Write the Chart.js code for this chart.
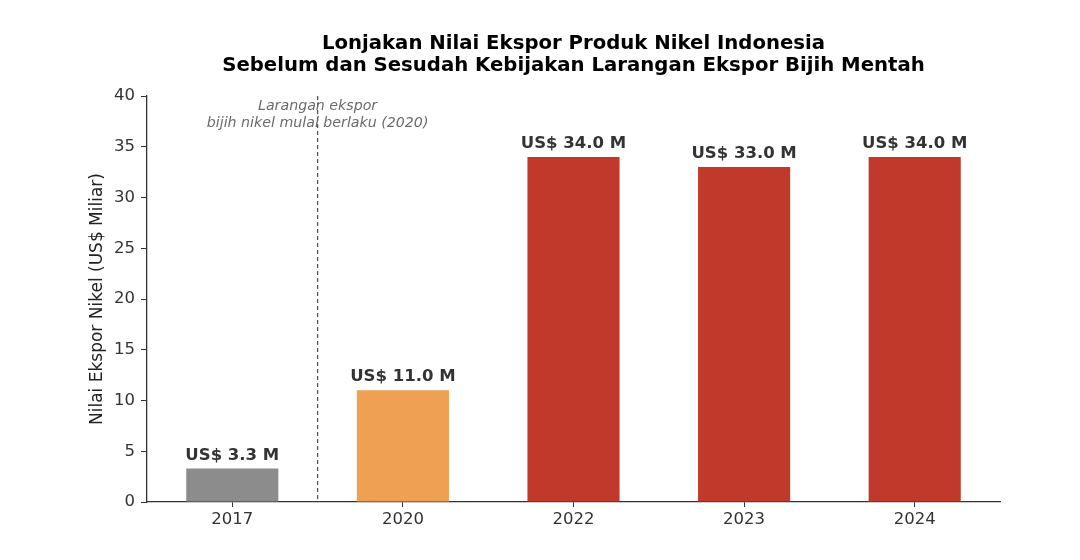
<!DOCTYPE html>
<html>
<head>
<meta charset="utf-8">
<script src="https://cdn.jsdelivr.net/npm/chart.js@4.4.1/dist/chart.umd.min.js"></script>
<style>
html,body{margin:0;padding:0;background:#fff;}
#wrap{width:1080px;height:560px;}
</style>
</head>
<body>
<div id="wrap"><canvas id="c" width="1080" height="560"></canvas></div>
<script>
const categories = ["2017", "2020", "2022", "2023", "2024"];
const values = [3.3, 11.0, 34.0, 33.0, 34.0];
const barColors = ["#8c8c8c", "#f0a053", "#c0392b", "#c0392b", "#c0392b"];
const valueLabels = ["US$ 3.3 M", "US$ 11.0 M", "US$ 34.0 M", "US$ 33.0 M", "US$ 34.0 M"];
const titleLines = ["Lonjakan Nilai Ekspor Produk Nikel Indonesia", "Sebelum dan Sesudah Kebijakan Larangan Ekspor Bijih Mentah"];
const annotationLines = ["Larangan ekspor", "bijih nikel mulai berlaku (2020)"];
const yTitle = "Nilai Ekspor Nikel (US$ Miliar)";

const FONT = "'DejaVu Sans', sans-serif";

const overlay = {
  id: 'overlay',
  afterDatasetsDraw(chart) {
    const ctx = chart.ctx;
    const area = chart.chartArea;
    const xs = chart.scales.x;
    // value labels
    const meta = chart.getDatasetMeta(0);
    ctx.save();
    ctx.fillStyle = '#333333';
    ctx.font = "bold 16.5px " + FONT;
    ctx.textAlign = 'center';
    ctx.textBaseline = 'bottom';
    meta.data.forEach((bar, i) => {
      ctx.fillText(valueLabels[i], bar.x, bar.y - 5);
    });
    // dashed divider between first and second category
    const xd = (xs.getPixelForValue(0) + xs.getPixelForValue(1)) / 2;
    ctx.strokeStyle = '#555555';
    ctx.lineWidth = 1.3;
    ctx.setLineDash([4, 3]);
    ctx.beginPath();
    ctx.moveTo(xd, area.top);
    ctx.lineTo(xd, area.bottom);
    ctx.stroke();
    ctx.setLineDash([]);
    // annotation
    ctx.fillStyle = '#6b6b6b';
    ctx.font = "italic 14.2px " + FONT;
    ctx.textBaseline = 'middle';
    ctx.fillText(annotationLines[0], xd, area.top + 10);
    ctx.fillText(annotationLines[1], xd, area.top + 27);
    // title
    ctx.fillStyle = '#000000';
    ctx.font = "bold 19.7px " + FONT;
    const cx = (area.left + area.right) / 2;
    ctx.fillText(titleLines[0], cx, 44);
    ctx.fillText(titleLines[1], cx, 66);
    // y axis title
    ctx.fillStyle = '#222222';
    ctx.font = "17px " + FONT;
    ctx.translate(98, (area.top + area.bottom) / 2);
    ctx.rotate(-Math.PI / 2);
    ctx.fillText(yTitle, 0, 0);
    ctx.restore();
  }
};

new Chart(document.getElementById('c'), {
  type: 'bar',
  data: {
    labels: categories,
    datasets: [{
      data: values,
      backgroundColor: barColors,
      borderWidth: 0,
      barPercentage: 0.54,
      categoryPercentage: 1.0
    }]
  },
  options: {
    responsive: false,
    animation: false,
    devicePixelRatio: 1,
    layout: { padding: { left: 0, right: 80, top: 96, bottom: 0 } },
    plugins: { legend: { display: false }, tooltip: { enabled: false }, title: { display: false } },
    scales: {
      x: {
        offset: true,
        grid: { display: true, offset: false, drawOnChartArea: false, drawTicks: true, tickLength: 5, color: '#333333' },
        border: { display: true, color: '#333333', width: 1.3 },
        ticks: { color: '#333333', font: { family: FONT, size: 16.5 }, padding: 3 },
        afterFit(scale) { scale.height = 58; }
      },
      y: {
        min: 0, max: 40,
        grid: { display: true, drawOnChartArea: false, drawTicks: true, tickLength: 6, color: '#333333' },
        border: { display: true, color: '#333333', width: 1.3 },
        ticks: { stepSize: 5, color: '#333333', font: { family: FONT, size: 16.5 }, padding: 6 },
        afterFit(scale) { scale.width = 147; }
      }
    }
  },
  plugins: [overlay]
});
</script>
</body>
</html>
